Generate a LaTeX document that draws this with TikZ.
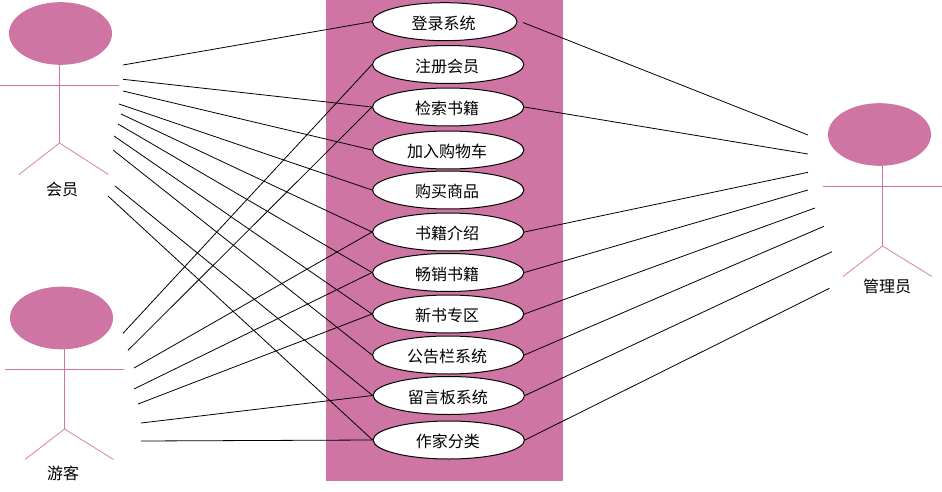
\documentclass[tikz,border=0pt]{standalone}
\usepackage{fontspec}
\setmainfont{Noto Sans CJK SC}
\usetikzlibrary{shapes.geometric}
\definecolor{umlpink}{HTML}{CF75A3}
\tikzset{
  usecase/.style={ellipse,draw=black,fill=white,line width=0.75pt,inner sep=0pt,minimum width=113.5pt,minimum height=28.5pt,font=\fontsize{12pt}{14pt}\selectfont,text height=12.5pt,text depth=1pt,execute at end node=\kern1.5pt},
  actorhead/.style={ellipse,fill=umlpink,draw=none,inner sep=0pt,minimum width=77.25pt,minimum height=47pt},
  limb/.style={draw=umlpink,line width=0.75pt},
  leg/.style={draw=umlpink!85,line width=0.65pt},
  assoc/.style={draw=black,line width=0.6pt},
  actorname/.style={inner sep=0pt,font=\fontsize{12pt}{14pt}\selectfont}
}
\begin{document}
\begin{tikzpicture}[x=0.75pt,y=-0.75pt]
\useasboundingbox (0,0) rectangle (942,492);
\fill[white] (0,0) rectangle (942,492);
\fill[umlpink] (326,0) rectangle (563,481);

% actor 1
\node[actorhead] (h1) at (60.5,33.5) {};
\coordinate (hip1) at (59.5,143);
\coordinate (al1) at (0,85.5);
\coordinate (ar1) at (118.5,85.5);
\coordinate (ll1) at (19,174.5);
\coordinate (lr1) at (108.5,174.5);
\draw[limb] (59.5,65) -- (hip1);
\draw[limb] (al1) -- (ar1);
\draw[leg] (ll1) -- (hip1) -- (lr1);
\node[actorname] (n1) at (62,189) {会员};

% actor 2
\node[actorhead] (h2) at (61.5,318) {};
\coordinate (hip2) at (64.5,429);
\coordinate (al2) at (5,369.5);
\coordinate (ar2) at (123.5,369.5);
\coordinate (ll2) at (25,459.5);
\coordinate (lr2) at (113.5,459.5);
\draw[limb] (64.5,349) -- (hip2);
\draw[limb] (al2) -- (ar2);
\draw[leg] (ll2) -- (hip2) -- (lr2);
\node[actorname] (n2) at (63,473) {游客};

% actor 3
\node[actorhead] (h3) at (879.5,134.5) {};
\coordinate (hip3) at (882.5,246);
\coordinate (al3) at (823,186.5);
\coordinate (ar3) at (941.5,186.5);
\coordinate (ll3) at (843,276.5);
\coordinate (lr3) at (932,276.5);
\draw[limb] (882.5,166) -- (hip3);
\draw[limb] (al3) -- (ar3);
\draw[leg] (ll3) -- (hip3) -- (lr3);
\node[actorname] (n3) at (887,286) {管理员};

% use cases
\node[usecase,minimum width=108.5pt] (u1) at (444.7,21.7) {登录系统};
\node[usecase] (u2) at (448.2,64.5) {注册会员};
\node[usecase] (u3) at (448.2,107) {检索书籍};
\node[usecase] (u4) at (448.2,150) {加入购物车};
\node[usecase] (u5) at (448.2,190) {购买商品};
\node[usecase] (u6) at (448.2,232) {书籍介绍};
\node[usecase] (u7) at (448.2,272.5) {畅销书籍};
\node[usecase] (u8) at (448.2,314) {新书专区};
\node[usecase] (u9) at (448.2,355) {公告栏系统};
\node[usecase] (u10) at (448.8,395.5) {留言板系统};
\node[usecase] (u11) at (448.8,440) {作家分类};

% free ends, member side
\coordinate (a1) at (123,65);
\coordinate (a2) at (123,79.3);
\coordinate (a3) at (123,91);
\coordinate (a4) at (119,104);
\coordinate (a5) at (121,114);
\coordinate (a6) at (118,124);
\coordinate (a7) at (114,136);
\coordinate (a8) at (113,150);
\coordinate (a9) at (115,186);
\coordinate (a10) at (108,196);
% free ends, guest side
\coordinate (b1) at (123,333.3);
\coordinate (b2) at (128,350.3);
\coordinate (b3) at (134,368);
\coordinate (b4) at (134,389);
\coordinate (b5) at (138,404);
\coordinate (b6) at (141,423);
\coordinate (b7) at (141,441);
% free ends, admin side
\coordinate (c1) at (808,135);
\coordinate (c2) at (808,154);
\coordinate (c3) at (808,172.3);
\coordinate (c4) at (808,190);
\coordinate (c5) at (815,208);
\coordinate (c6) at (824,226.3);
\coordinate (c7) at (832,251.7);
\coordinate (c8) at (829.5,288.3);
\coordinate (u1r) at (523,22.5);

\draw[assoc] (a1) -- (u1.west);
\draw[assoc] (a2) -- (u3.west);
\draw[assoc] (a3) -- (u4.west);
\draw[assoc] (a4) -- (u5.west);
\draw[assoc] (a5) -- (u6.west);
\draw[assoc] (a6) -- (u7.west);
\draw[assoc] (a7) -- (u8.west);
\draw[assoc] (a8) -- (u9.west);
\draw[assoc] (a9) -- (u10.west);
\draw[assoc] (a10) -- (u11.west);

\draw[assoc] (b1) -- (u2.west);
\draw[assoc] (b2) -- (u3.west);
\draw[assoc] (b3) -- (u6.west);
\draw[assoc] (b4) -- (u7.west);
\draw[assoc] (b5) -- (u8.west);
\draw[assoc] (b6) -- (u10.west);
\draw[assoc] (b7) -- (u11.west);

\draw[assoc] (u1r) -- (c1);
\draw[assoc] (u3.east) -- (c2);
\draw[assoc] (u6.east) -- (c3);
\draw[assoc] (u7.east) -- (c4);
\draw[assoc] (u8.east) -- (c5);
\draw[assoc] (u9.east) -- (c6);
\draw[assoc] (u10.east) -- (c7);
\draw[assoc] (u11.east) -- (c8);
\end{tikzpicture}
\end{document}
